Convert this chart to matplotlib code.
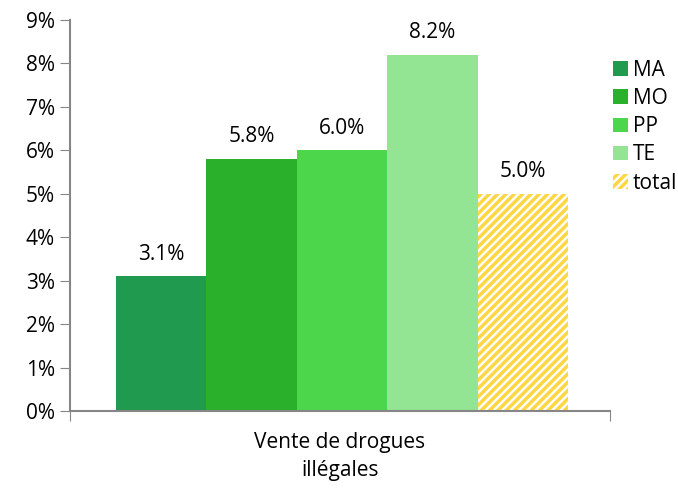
from matplotlib import pyplot as plt
import numpy as np

# data
category = "Vente de drogues\nillégales"
series = ["MA", "MO", "PP", "TE", "total"]
values = [3.1, 5.8, 6.0, 8.2, 5.0]
colors = ["#1f9a4e", "#2bb02b", "#4cd64c", "#93e593", "#ffd744"]

plt.rcParams['font.family'] = ['Open Sans', 'DejaVu Sans']
plt.rcParams['hatch.linewidth'] = 2.5

fig = plt.figure(figsize=(6.78, 4.92), dpi=100)
ax = fig.add_axes([70 / 678, 1 - 411 / 492, 540 / 678, 391 / 492])

fs = 15
width = 90.5 / 540
offsets = (np.arange(len(series)) - 2) * width + 2 / 540
for name, off, val, col in zip(series, offsets, values, colors):
    if name == "total":
        ax.bar(off, val, width, color="white", edgecolor=col, hatch="////",
               linewidth=0, label=name)
    else:
        ax.bar(off, val, width, color=col, linewidth=0, label=name)
    ax.text(off, val + 0.27, f"{val:.1f}%", ha="center", va="bottom",
            fontsize=fs)

ax.set_xlim(-0.5, 0.5)
ax.set_ylim(0, 9)
ax.set_yticks(range(10), [f"{i}%" for i in range(10)])
ax.set_xticks([-0.5, 0.5], ["", ""])
ax.set_xticks([0], [category], minor=True)
for t in ax.get_xticklabels(minor=True):
    t.set_linespacing(1.45)
ax.tick_params(axis="x", which="minor", length=0, pad=15, labelsize=fs)
ax.tick_params(axis="x", which="major", length=7, color="#868686")
ax.tick_params(axis="y", length=7, color="#868686", labelsize=fs, pad=4)
for s in ["top", "right"]:
    ax.spines[s].set_visible(False)
for s in ["left", "bottom"]:
    ax.spines[s].set_color("#868686")
    ax.spines[s].set_linewidth(1.5)

ax.legend(loc="upper left", bbox_to_anchor=(0.99, 0.92), frameon=False,
          fontsize=fs, handlelength=0.7, handleheight=0.7,
          handletextpad=0.25, labelspacing=0.35, borderaxespad=0)

fig.savefig("out.png", dpi=100)
